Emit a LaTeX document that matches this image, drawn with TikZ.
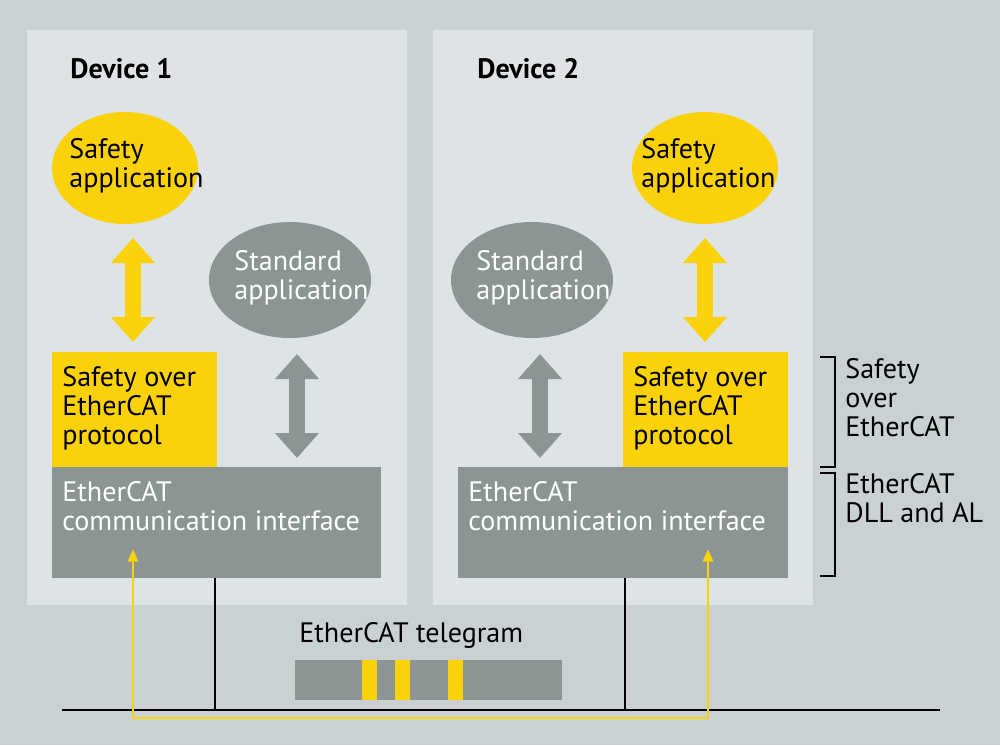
\documentclass[tikz,border=0pt]{standalone}
\usepackage{fontspec}
\setmainfont{PT Sans}
\usetikzlibrary{arrows.meta}
\definecolor{bgcol}{HTML}{C9D1D3}
\definecolor{panelcol}{HTML}{DEE3E5}
\definecolor{safecol}{HTML}{FBD20A}
\definecolor{stdcol}{HTML}{8B9694}
\tikzset{
  txt/.style={align=left,anchor=north west,inner sep=0pt,font=\fontsize{16}{16.5}\selectfont},
  bigarrow/.style={line width=0.32cm,{Triangle[length=0.5cm 0,width=0.85cm 0]}-{Triangle[length=0.5cm 0,width=0.85cm 0]}},
}
\begin{document}
\begin{tikzpicture}[x=0.02cm,y=-0.02cm]
\fill[bgcol] (0,0) rectangle (1000,745);
\fill[panelcol] (27,30) rectangle (407,605);
\fill[panelcol] (433,30) rectangle (813,605);
\node[txt,font=\fontsize{16}{16.5}\selectfont\bfseries] (dev1) at (70,58) {Device 1};
\node[txt,font=\fontsize{16}{16.5}\selectfont\bfseries] (dev2) at (477,58) {Device 2};
% device 1
\fill[safecol] (125,168) ellipse [x radius=73,y radius=56];
\node[txt] (sa1) at (69,138) {Safety\\application};
\fill[stdcol] (290,280) ellipse [x radius=81,y radius=58];
\node[txt,text=white] (st1) at (234,250) {Standard\\application};
\fill[safecol] (52,352) rectangle (217,467);
\node[txt] (sp1) at (62,366) {Safety over\\EtherCAT\\protocol};
\fill[stdcol] (52,467) rectangle (381,578);
\node[txt,text=white] (ci1) at (62,481) {EtherCAT\\communication interface};
% device 2
\fill[safecol] (705,168) ellipse [x radius=73,y radius=56];
\node[txt] (sa2) at (641,138) {Safety\\application};
\fill[stdcol] (532,280) ellipse [x radius=81,y radius=58];
\node[txt,text=white] (st2) at (476,250) {Standard\\application};
\fill[safecol] (623,352) rectangle (788,467);
\node[txt] (sp2) at (633,366) {Safety over\\EtherCAT\\protocol};
\fill[stdcol] (458,467) rectangle (788,578);
\node[txt,text=white] (ci2) at (468,481) {EtherCAT\\communication interface};
% arrows
\coordinate (a1t) at (133,238); \coordinate (a1b) at (133,342);
\coordinate (a2t) at (705,238); \coordinate (a2b) at (705,342);
\coordinate (b1t) at (297,354); \coordinate (b1b) at (297,458);
\coordinate (b2t) at (540,354); \coordinate (b2b) at (540,458);
\draw[bigarrow,safecol] (a1t) -- (a1b);
\draw[bigarrow,safecol] (a2t) -- (a2b);
\draw[bigarrow,stdcol] (b1t) -- (b1b);
\draw[bigarrow,stdcol] (b2t) -- (b2b);
% bus
\coordinate (busl) at (62,710); \coordinate (busr) at (940,710);
\draw[line width=0.8pt] (busl) -- (busr);
\draw[line width=0.8pt] (215,578) -- (215,710);
\draw[line width=0.8pt] (625,578) -- (625,710);
\coordinate (y1) at (133,549); \coordinate (y2) at (708,549);
\draw[safecol,line width=1.6pt,-{Triangle[length=0.25cm 0,width=0.2cm 0]}] (133,718) -- (y1);
\draw[safecol,line width=1.6pt,-{Triangle[length=0.25cm 0,width=0.2cm 0]}] (133,718) -- (708,718) -- (y2);
% telegram
\node[txt] (tel) at (299,622) {EtherCAT telegram};
\fill[stdcol] (295,660) rectangle (562,700);
\foreach \x in {362,395,448} \fill[safecol] (\x,660) rectangle (\x+15,700);
% brackets
\draw[line width=0.8pt] (820,357) -- (835,357) -- (835,467) -- (820,467);
\draw[line width=0.8pt] (820,473) -- (835,473) -- (835,576) -- (820,576);
\node[txt] (lb1) at (845,358) {Safety\\over\\EtherCAT};
\node[txt] (lb2) at (845,473) {EtherCAT\\DLL and AL};
\end{tikzpicture}
\end{document}
